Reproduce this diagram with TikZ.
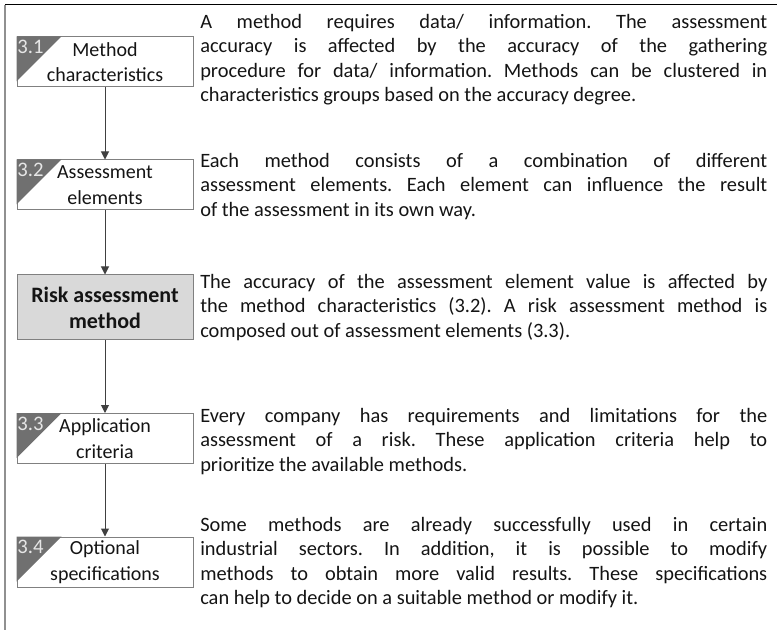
\documentclass[tikz,border=0pt]{standalone}
\usepackage{fontspec}
\setmainfont{Carlito}
\frenchspacing
\usetikzlibrary{arrows.meta}
\definecolor{boxline}{HTML}{808080}
\definecolor{arrline}{HTML}{404040}
\definecolor{trifill}{HTML}{707070}
\definecolor{riskfill}{HTML}{D9D9D9}
\definecolor{txt}{HTML}{141414}
\definecolor{numtxt}{HTML}{E6E6E6}
\definecolor{frameleft}{HTML}{909090}
\tikzset{
  box/.style={draw=boxline, line width=0.75pt, minimum width=132pt, minimum height=37.5pt,
    align=center, inner sep=0pt, text=txt, font=\fontsize{15}{19}\selectfont},
  riskbox/.style={box, fill=riskfill, minimum height=48.75pt, font=\fontsize{16.5}{19.5}\selectfont\bfseries},
  tri/.style={fill=trifill},
  num/.style={anchor=north west, inner sep=0pt, text=numtxt, font=\fontsize{15.5}{18}\selectfont},
  para/.style={anchor=north west, inner sep=0pt, text width=425.25pt, align=justify,
    text=txt, font=\fontsize{15.3}{18.4}\selectfont},
  arr/.style={draw=arrline, line width=0.75pt, -{Triangle[length=6pt,width=6pt]}},
}
\begin{document}
\begin{tikzpicture}[x=0.75pt,y=-0.75pt]
\useasboundingbox (0,0) rectangle (777,630);
% frame
\coordinate (fa) at (5,5);
\coordinate (fb) at (777,5);
\coordinate (fc) at (5,630);
\draw[black, line width=0.75pt] (fa) -- (fb);
\draw[frameleft, line width=1.5pt] (fa) -- (fc);
% boxes
\node[box] (b1) at (105,62) {Method\\characteristics};
\node[box] (b2) at (105,185) {Assessment\\elements};
\node[riskbox] (rm) at (105,307.5) {Risk assessment\\method};
\node[box] (b3) at (105,438.5) {Application\\criteria};
\node[box] (b4) at (105,562) {Optional\\specifications};
% corner triangles and numbers
\foreach \b/\n in {b1/3.1, b2/3.2, b3/3.3, b4/3.4}{
  \fill[tri] (\b.north west) -- ++(45,0) -- ++(-45,45) -- cycle;
  \node[num] (\b n) at ([xshift=0.5pt,yshift=-2.5pt]\b.north west) {\n};
}
% arrows
\draw[arr] (b1.south) -- (b2.north);
\draw[arr] (b2.south) -- (rm.north);
\draw[arr] (rm.south) -- (b3.north);
\draw[arr] (b3.south) -- (b4.north);
% paragraphs
\node[para] (p1) at (200,10.8) {\strut A method requires data/ information. The assessment\linebreak accuracy is affected by the accuracy of the gathering\linebreak procedure for data/ information. Methods can be clustered in\linebreak characteristics groups based on the accuracy degree.};
\node[para] (p2) at (200,149.8) {\strut Each method consists of a combination of different\linebreak assessment elements. Each element can influence the result\linebreak of the assessment in its own way.};
\node[para] (p3) at (200,270.8) {\strut The accuracy of the assessment element value is affected by\linebreak the method characteristics (3.2). A risk assessment method is\linebreak composed out of assessment elements (3.3).};
\node[para] (p4) at (200,404.8) {\strut Every company has requirements and limitations for the\linebreak assessment of a risk. These application criteria help to\linebreak prioritize the available methods.};
\node[para] (p5) at (200,513.8) {\strut Some methods are already successfully used in certain\linebreak industrial sectors. In addition, it is possible to modify\linebreak methods to obtain more valid results. These specifications\linebreak can help to decide on a suitable method or modify it.};
\end{tikzpicture}
\end{document}
